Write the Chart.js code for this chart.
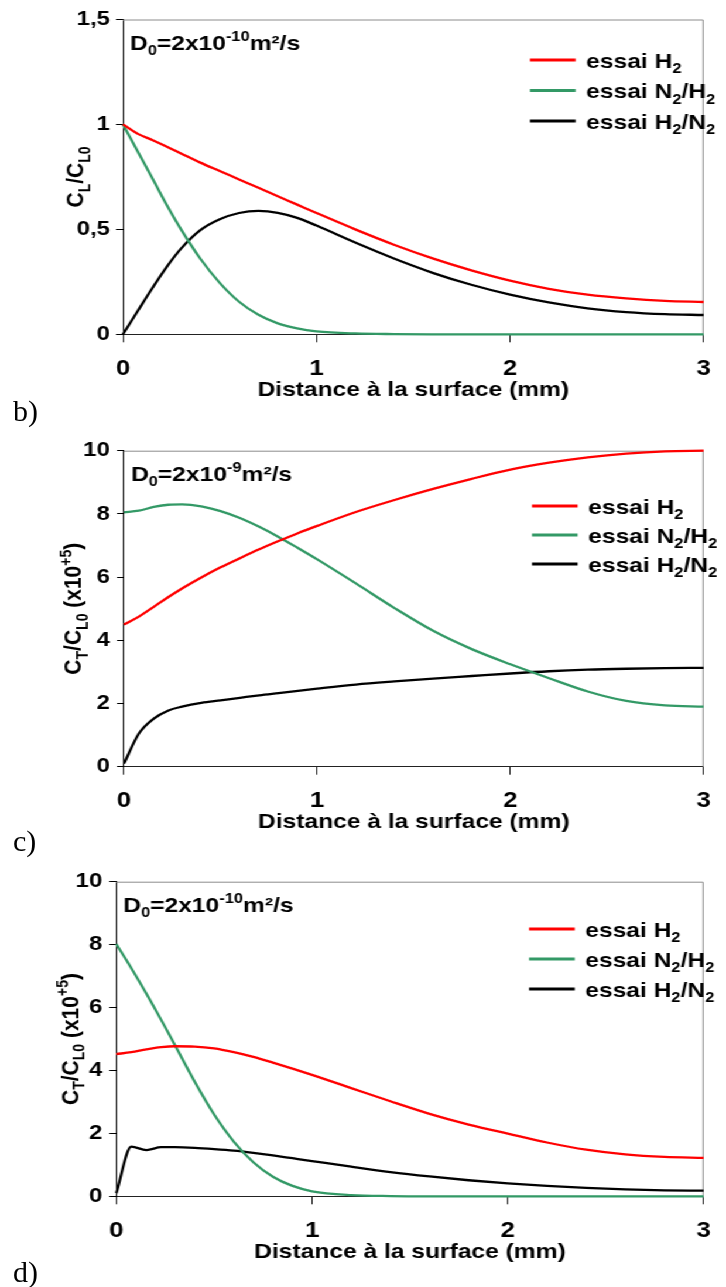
<!DOCTYPE html>
<html>
<head>
<meta charset="utf-8">
<script src="https://cdn.jsdelivr.net/npm/chart.js@4.4.1/dist/chart.umd.min.js"></script>
<style>
  html, body { margin: 0; padding: 0; background: #fff; }
  body { width: 726px; height: 1287px; overflow: hidden; position: relative; }
  /* the original figure is a horizontally stretched picture */
  #stretch { position: absolute; left: 0; top: 0; width: 620px; height: 1287px; transform: scaleX(1.171); transform-origin: 0 0; }
  .panel { position: absolute; left: 0; width: 620px; }
  .lbl { position: absolute; left: 13px; font-family: "Liberation Serif", "Times New Roman", serif; font-size: 30px; line-height: 30px; }
</style>
</head>
<body>
<div id="stretch">
  <div class="panel" style="top:0px;height:403px"><canvas id="chartB"></canvas></div>
  <div class="panel" style="top:430px;height:405px"><canvas id="chartC"></canvas></div>
  <div class="panel" style="top:861px;height:404px"><canvas id="chartD"></canvas></div>
</div>
<div class="lbl" style="top:396px">b)</div>
<div class="lbl" style="top:826px">c)</div>
<div class="lbl" style="top:1257px">d)</div>

<script>
// Distance à la surface (mm)
var distance = [0, 0.077, 0.154, 0.23, 0.3, 0.4, 0.5, 0.6, 0.7, 0.8, 0.9, 1.0, 1.2, 1.4, 1.6, 1.8, 2.0, 2.2, 2.4, 2.6, 2.8, 3.0];
var xTicks = [0, 1, 2, 3];
var yTicksB = [0, 0.5, 1, 1.5];
var yTicksCD = [0, 2, 4, 6, 8, 10];

// b) C_L/C_L0, D0 = 2x10-10 m²/s
var bH2   = [1.0, 0.955, 0.925, 0.893, 0.862, 0.818, 0.778, 0.738, 0.698, 0.658, 0.618, 0.578, 0.5, 0.427, 0.362, 0.305, 0.256, 0.217, 0.189, 0.171, 0.159, 0.154];
var bN2H2 = [1.0, 0.87, 0.74, 0.61, 0.5, 0.36, 0.245, 0.155, 0.093, 0.052, 0.028, 0.014, 0.004, 0.001, 0, 0, 0, 0, 0, 0, 0, 0];
var bH2N2 = [0, 0.112, 0.223, 0.326, 0.408, 0.496, 0.548, 0.578, 0.588, 0.579, 0.555, 0.518, 0.437, 0.361, 0.293, 0.236, 0.189, 0.152, 0.124, 0.106, 0.096, 0.092];

// c) C_T/C_L0 (x10+5), D0 = 2x10-9 m²/s
var cH2   = [4.5, 4.75, 5.06, 5.37, 5.64, 5.99, 6.31, 6.6, 6.88, 7.14, 7.39, 7.62, 8.06, 8.44, 8.79, 9.11, 9.4, 9.62, 9.79, 9.91, 9.98, 10.0];
var cN2H2 = [8.05, 8.1, 8.22, 8.29, 8.3, 8.24, 8.09, 7.87, 7.59, 7.27, 6.92, 6.56, 5.8, 5.02, 4.3, 3.72, 3.24, 2.8, 2.38, 2.08, 1.94, 1.9];
var cH2N2 = [0.1, 1.05, 1.52, 1.78, 1.9, 2.02, 2.1, 2.18, 2.26, 2.33, 2.4, 2.47, 2.6, 2.7, 2.79, 2.87, 2.95, 3.02, 3.07, 3.1, 3.12, 3.13];

// d) C_T/C_L0 (x10+5), D0 = 2x10-10 m²/s
var dH2   = [4.52, 4.58, 4.67, 4.74, 4.77, 4.76, 4.7, 4.58, 4.43, 4.25, 4.06, 3.86, 3.44, 3.02, 2.62, 2.28, 1.99, 1.71, 1.48, 1.33, 1.25, 1.22];
var dN2H2 = [8.02, 7.25, 6.44, 5.6, 4.8, 3.65, 2.6, 1.74, 1.08, 0.62, 0.33, 0.16, 0.04, 0.008, 0, 0, 0, 0, 0, 0, 0, 0];
var dH2N2 = [0.1, 1.58, 1.47, 1.56, 1.56, 1.54, 1.5, 1.45, 1.38, 1.3, 1.21, 1.12, 0.94, 0.77, 0.63, 0.51, 0.41, 0.33, 0.265, 0.22, 0.19, 0.18];

var RED = "#ff0000", GREEN = "#339966", BLACK = "#000000";
var FONT = '"Liberation Sans", Arial, sans-serif';

// rich text pieces: [text, "sub" | "sup" | undefined]
var legendH2   = [["essai H"], ["2", "sub"]];
var legendN2H2 = [["essai N"], ["2", "sub"], ["/H"], ["2", "sub"]];
var legendH2N2 = [["essai H"], ["2", "sub"], ["/N"], ["2", "sub"]];
var titleCL = [["C"], ["L", "sub"], ["/C"], ["L0", "sub"]];
var titleCT = [["C"], ["T", "sub"], ["/C"], ["L0", "sub"], [" (x10"], ["+5", "sup"], [")"]];

Chart.defaults.font.family = FONT;
Chart.defaults.font.weight = "bold";
Chart.defaults.color = "#000";

function drawRich(ctx, parts, x, y, size, dryRun) {
    var cx = x;
    parts.forEach(function(p) {
        var s = p[1] ? Math.round(size * 0.66) : size;
        ctx.font = "bold " + s + "px " + FONT;
        var dy = 0;
        if (p[1] === "sub") dy = size * 0.27;
        if (p[1] === "sup") dy = -size * 0.4;
        if (!dryRun) ctx.fillText(p[0], cx, y + dy);
        cx += ctx.measureText(p[0]).width;
    });
    return cx - x;
}

// gray frame, D0 note, legend with subscripts and the y title
var panelDecor = {
    id: "panelDecor",
    beforeDatasetsDraw: function(chart, args, opts) {
        var a = chart.chartArea, ctx = chart.ctx;
        ctx.save();
        ctx.strokeStyle = "#8c8c8c";
        ctx.lineWidth = 1;
        ctx.beginPath();
        ctx.moveTo(a.left, a.top + 0.5);
        ctx.lineTo(a.right - 0.5, a.top + 0.5);
        ctx.lineTo(a.right - 0.5, a.bottom);
        ctx.stroke();
        ctx.restore();
    },
    afterDraw: function(chart, args, opts) {
        var a = chart.chartArea, ctx = chart.ctx;
        ctx.save();
        ctx.fillStyle = "#000";
        ctx.textAlign = "left";
        ctx.textBaseline = "alphabetic";
        drawRich(ctx, opts.note, a.left + 6, a.top + 30, 21);

        chart.data.datasets.forEach(function(ds, i) {
            var y = a.top + opts.legendTop + i * opts.legendGap;
            ctx.strokeStyle = ds.borderColor;
            ctx.lineWidth = 3;
            ctx.beginPath();
            ctx.moveTo(opts.legendX, y);
            ctx.lineTo(opts.legendX + 39, y);
            ctx.stroke();
            drawRich(ctx, ds.richLabel, opts.legendX + 48, y + 7.5, 21);
        });

        ctx.translate(opts.yTitleX, (a.top + a.bottom) / 2);
        ctx.rotate(-Math.PI / 2);
        var w = drawRich(ctx, opts.yTitle, 0, 0, 21, true);
        drawRich(ctx, opts.yTitle, -w / 2, 0, 21);
        ctx.restore();
    }
};

function series(label, rich, values, color) {
    return {
        label: label,
        richLabel: rich,
        data: distance.map(function(x, i) { return { x: x, y: values[i] }; }),
        borderColor: color,
        backgroundColor: color,
        borderWidth: 2.3,
        pointRadius: 0,
        cubicInterpolationMode: "monotone",
        clip: 4,
        fill: false
    };
}

function makeChart(id, p) {
    var ctx = document.getElementById(id).getContext("2d");
    return new Chart(ctx, {
        type: "line",
        data: {
            datasets: [
                series("essai H2", legendH2, p.h2, RED),
                series("essai N2/H2", legendN2H2, p.n2h2, GREEN),
                series("essai H2/N2", legendH2N2, p.h2n2, BLACK)
            ]
        },
        options: {
            responsive: true,
            maintainAspectRatio: false,
            animation: false,
            events: [],
            layout: { padding: { left: 0, top: p.padTop, right: p.padRight, bottom: 0 } },
            plugins: {
                legend: { display: false },
                tooltip: { enabled: false },
                panelDecor: {
                    note: p.note,
                    yTitle: p.yTitle,
                    yTitleX: p.yTitleX,
                    legendX: p.legendX,
                    legendTop: p.legendTop,
                    legendGap: p.legendGap
                }
            },
            scales: {
                x: {
                    type: "linear",
                    min: 0,
                    max: 3,
                    afterBuildTicks: function(s) { s.ticks = xTicks.map(function(v) { return { value: v }; }); },
                    afterFit: function(s) { s.height = p.xHeight; },
                    grid: { drawOnChartArea: false, drawTicks: true, tickLength: 8, color: "#222" },
                    border: { color: "#222", width: 1 },
                    ticks: { font: { size: 22, weight: "bold" }, padding: 13, maxRotation: 0 },
                    title: { display: true, text: "Distance à la surface (mm)", font: { size: 21, weight: "bold" }, padding: 0 }
                },
                y: {
                    type: "linear",
                    min: 0,
                    max: p.yMax,
                    afterBuildTicks: function(s) { s.ticks = p.yTicks.map(function(v) { return { value: v }; }); },
                    afterFit: function(s) { s.width = p.yWidth; },
                    grid: { drawOnChartArea: false, drawTicks: true, tickLength: 6, color: "#000" },
                    border: { color: "#000", width: 1 },
                    ticks: {
                        font: { size: 20.5, weight: "bold" },
                        padding: p.yPad,
                        callback: function(v) { return String(v).replace(".", ","); }
                    }
                }
            }
        },
        plugins: [panelDecor]
    });
}

makeChart("chartB", {
    h2: bH2, n2h2: bN2H2, h2n2: bH2N2,
    yMax: 1.5, yTicks: yTicksB,
    padTop: 19.5, padRight: 6.8, yWidth: 105, yPad: 5, xHeight: 68.7,
    note: [["D"], ["0", "sub"], ["=2x10"], ["-10", "sup"], ["m²/s"]],
    yTitle: titleCL, yTitleX: 70.9,
    legendX: 452.6, legendTop: 40.5, legendGap: 30.5
});

makeChart("chartC", {
    h2: cH2, n2h2: cN2H2, h2n2: cH2N2,
    yMax: 10, yTicks: yTicksCD,
    padTop: 20.7, padRight: 7.7, yWidth: 105.9, yPad: 6, xHeight: 68.3,
    note: [["D"], ["0", "sub"], ["=2x10"], ["-9", "sup"], ["m²/s"]],
    yTitle: titleCT, yTitleX: 69.2,
    legendX: 454.3, legendTop: 55.3, legendGap: 29
});

makeChart("chartD", {
    h2: dH2, n2h2: dN2H2, h2n2: dH2N2,
    yMax: 10, yTicks: yTicksCD,
    padTop: 20.7, padRight: 6.8, yWidth: 99.3, yPad: 6, xHeight: 68.7,
    note: [["D"], ["0", "sub"], ["=2x10"], ["-10", "sup"], ["m²/s"]],
    yTitle: titleCT, yTitleX: 66.6,
    legendX: 451.8, legendTop: 47.3, legendGap: 30
});
</script>
</body>
</html>
